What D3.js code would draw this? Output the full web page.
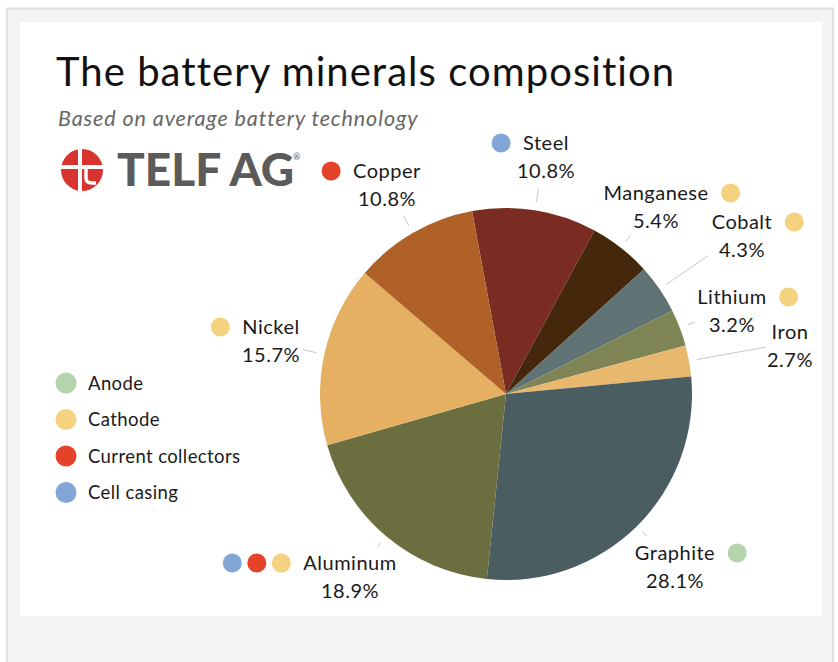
<!DOCTYPE html>
<html><head><meta charset="utf-8">
<script src="https://cdn.jsdelivr.net/npm/d3@7"></script>
<style>
html,body{margin:0;padding:0;background:#fff;}
svg{display:block;font-family:Lato,"Open Sans",sans-serif;}
</style></head>
<body>
<svg id="c" width="838" height="662"></svg>
<script>
// ---- data ----
const minerals = ["Steel","Manganese","Cobalt","Lithium","Iron","Graphite","Aluminum","Nickel","Copper"];
const shares   = [10.8, 5.4, 4.3, 3.2, 2.7, 28.1, 18.9, 15.7, 10.8];
const sliceColors = ["#7a2b22","#45270c","#5f7374","#7f8455","#e8b86f","#4a5d61","#6b6f40","#e5b062","#af6127"];
const groups = ["Anode","Cathode","Current collectors","Cell casing"];
const groupColors = ["#b3d4ad","#f5d27f","#e54329","#82a6d5"];
const mineralGroups = [["Cell casing"],["Cathode"],["Cathode"],["Cathode"],[],["Anode"],["Cell casing","Current collectors","Cathode"],["Cathode"],["Current collectors"]];

// ---- layout ----
const labelLayout = [ // cx, name-center y, dot side, leader length
  {x:546,y:143,side:"left",len:14},
  {x:656,y:193,side:"right",len:8},
  {x:742,y:222,side:"right",len:51},
  {x:732,y:297,side:"right",len:8},
  {x:790,y:332,side:"none",len:69},
  {x:675,y:553,side:"right",len:6},
  {x:350,y:563,side:"left",len:6},
  {x:271,y:327,side:"left",len:14},
  {x:387,y:171,side:"left",len:12}
];

const svg = d3.select("#c");
// frame
svg.append("rect").attr("x",7).attr("y",8.5).attr("width",826).attr("height",660).attr("fill","#f4f4f4").attr("stroke","#e0e0e0").attr("stroke-width",2);
svg.append("rect").attr("x",20).attr("y",22).attr("width",802).attr("height",594).attr("fill","#fff");

// title
svg.append("text").attr("x",56).attr("y",86).attr("font-size",40).attr("letter-spacing",1.05).attr("fill","#111").text("The battery minerals composition");
svg.append("text").attr("x",58).attr("y",126).attr("font-size",21.5).attr("letter-spacing",0.9).attr("font-style","italic").attr("fill","#666").text("Based on average battery technology");

// logo
const logo = svg.append("g").attr("transform","translate(82,170)");
logo.append("circle").attr("r",21).attr("fill","#d8332f");
logo.append("rect").attr("x",-4).attr("y",-22).attr("width",4).attr("height",44).attr("fill","#fff");
logo.append("rect").attr("x",-22).attr("y",-5).attr("width",44).attr("height",4).attr("fill","#fff");
logo.append("path").attr("d","M4,-1 L4,8 Q4,13 10,13 L14,13").attr("fill","none").attr("stroke","#fff").attr("stroke-width",3.5);
svg.append("text").attr("x",117).attr("y",186).attr("font-size",46).attr("font-weight",900).attr("fill","#5b5b5b").text("TELF AG");
svg.append("text").attr("x",293).attr("y",160).attr("font-size",9).attr("fill","#5b5b5b").text("®");

// pie
const cx = 506, cy = 394, R = 186;
const startA = -10.5 * Math.PI/180;
const pie = d3.pie().sort(null).value(d=>d).startAngle(startA).endAngle(startA+2*Math.PI);
const arcs = pie(shares);
const arc = d3.arc().innerRadius(0).outerRadius(R);
const g = svg.append("g").attr("transform",`translate(${cx},${cy})`);
g.selectAll("path.slice").data(arcs).join("path").attr("class","slice")
  .attr("d",arc).attr("fill",(d,i)=>sliceColors[i]);

// leader lines
arcs.forEach((d,i)=>{
  const a = (d.startAngle+d.endAngle)/2;
  const r0 = R+8, r1 = R+8+labelLayout[i].len;
  g.append("line")
    .attr("x1",Math.sin(a)*r0).attr("y1",-Math.cos(a)*r0)
    .attr("x2",Math.sin(a)*r1).attr("y2",-Math.cos(a)*r1)
    .attr("stroke","#c8c8c8").attr("stroke-width",1);
});

// labels
const fmt = v => v.toFixed(1)+"%";
arcs.forEach((d,i)=>{
  const L = labelLayout[i];
  const nameT = svg.append("text").attr("x",L.x).attr("y",L.y+7).attr("text-anchor","middle")
    .attr("font-size",20).attr("letter-spacing",0.5).attr("fill","#1a1a1a").text(minerals[i]);
  svg.append("text").attr("x",L.x).attr("y",L.y+35).attr("text-anchor","middle")
    .attr("font-size",20).attr("letter-spacing",0.5).attr("fill","#1a1a1a").text(fmt(shares[i]));
  const w = nameT.node().getComputedTextLength();
  const gs = mineralGroups[i];
  gs.forEach((gn,k)=>{
    const col = groupColors[groups.indexOf(gn)];
    let x;
    if (L.side==="left") x = L.x - w/2 - 22 - (gs.length-1-k)*24.5;
    else x = L.x + w/2 + 22 + k*24.5;
    svg.append("circle").attr("cx",x).attr("cy",L.y).attr("r",9.5).attr("fill",col);
  });
});

// legend
const leg = svg.append("g").attr("transform","translate(66,383)");
groups.forEach((gn,i)=>{
  leg.append("circle").attr("cx",0).attr("cy",i*36.5).attr("r",10.5).attr("fill",groupColors[i]);
  leg.append("text").attr("x",22).attr("y",i*36.5+6.5).attr("font-size",18.5).attr("letter-spacing",0.4).attr("fill","#1a1a1a").text(gn);
});
</script>
</body></html>
